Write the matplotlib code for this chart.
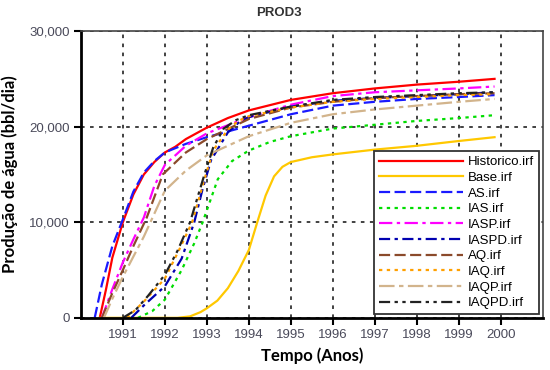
import matplotlib.pyplot as plt
from matplotlib.ticker import FuncFormatter

# anos decimais e producao de agua (bbl/dia)
hist_t = [1990.45, 1990.6, 1990.75, 1991.0, 1991.25, 1991.5, 1991.75, 1992.0, 1992.25, 1992.5, 1993.0, 1993.5, 1994.0, 1995.0, 1996.0, 1997.0, 1998.0, 1999.0, 1999.85]
hist_q = [0, 3000, 6300, 10000, 12900, 15000, 16300, 17300, 17900, 18700, 19900, 20900, 21700, 22800, 23500, 24000, 24400, 24700, 25000]

base_t = [1990.45, 1992.3, 1992.6, 1992.85, 1993.0, 1993.25, 1993.5, 1993.75, 1994.0, 1994.2, 1994.4, 1994.6, 1994.8, 1995.0, 1995.5, 1996.0, 1997.0, 1998.0, 1999.0, 1999.85]
base_q = [0, 0, 150, 600, 1000, 1800, 3100, 4900, 7100, 10000, 12800, 14800, 15800, 16300, 16800, 17100, 17600, 18000, 18500, 18900]

as_t = [1990.33, 1990.5, 1990.75, 1991.0, 1991.25, 1991.5, 1991.75, 1992.0, 1992.5, 1993.0, 1993.5, 1994.0, 1995.0, 1996.0, 1997.0, 1998.0, 1999.0, 1999.85]
as_q = [0, 3500, 7500, 10300, 13200, 15200, 16400, 17300, 18200, 18900, 19500, 20100, 21300, 22200, 22600, 22900, 23100, 23300]

ias_t = [1991.36, 1991.7, 1992.0, 1992.4, 1992.7, 1992.9, 1993.26, 1993.6, 1994.0, 1994.5, 1995.0, 1996.0, 1997.0, 1998.0, 1999.0, 1999.85]
ias_q = [0, 700, 1900, 5000, 7800, 10000, 14500, 16400, 17500, 18400, 19000, 19800, 20200, 20600, 20900, 21200]

iasp_t = [1990.5, 1990.75, 1991.0, 1991.25, 1991.5, 1991.75, 1992.0, 1992.5, 1993.0, 1994.0, 1995.0, 1996.0, 1997.0, 1998.0, 1999.0, 1999.85]
iasp_q = [0, 3000, 5800, 8200, 10500, 13800, 16000, 18000, 19300, 21000, 22300, 23200, 23600, 23800, 24000, 24200]

iaspd_t = [1991.2, 1991.5, 1992.0, 1992.4, 1992.7, 1992.9, 1993.1, 1993.5, 1993.75, 1994.0, 1995.0, 1996.0, 1997.0, 1998.0, 1999.0, 1999.85]
iaspd_q = [0, 1300, 3300, 6200, 10000, 13500, 16500, 19400, 20400, 21000, 22100, 22700, 23000, 23200, 23400, 23600]

aq_t = [1990.5, 1990.75, 1991.0, 1991.25, 1991.57, 1991.95, 1992.5, 1993.0, 1994.0, 1995.0, 1996.0, 1997.0, 1998.0, 1999.0, 1999.85]
aq_q = [0, 2600, 5000, 7500, 10500, 15000, 17300, 18700, 20800, 22000, 22600, 23000, 23200, 23400, 23500]

iaq_t = [1991.1, 1991.5, 1992.0, 1992.35, 1992.65, 1992.95, 1993.15, 1993.5, 1993.75, 1994.0, 1995.0, 1996.0, 1997.0, 1998.0, 1999.0, 1999.85]
iaq_q = [0, 1700, 4100, 7200, 10000, 14600, 17500, 19700, 20600, 21100, 22000, 22600, 22900, 23100, 23300, 23400]

iaqp_t = [1990.55, 1990.75, 1991.0, 1991.5, 1992.0, 1992.5, 1993.0, 1993.5, 1994.0, 1994.5, 1995.0, 1996.0, 1997.0, 1998.0, 1999.0, 1999.85]
iaqp_q = [0, 2000, 4300, 8500, 13300, 15400, 17000, 18000, 19000, 19700, 20400, 21300, 21800, 22200, 22600, 22900]

iaqpd_t = [1991.0, 1991.3, 1991.6, 1992.0, 1992.3, 1992.6, 1992.95, 1993.15, 1993.4, 1993.7, 1994.0, 1995.0, 1996.0, 1997.0, 1998.0, 1999.0, 1999.85]
iaqpd_q = [0, 800, 2300, 4500, 7000, 10000, 15100, 17800, 19800, 20700, 21200, 22100, 22800, 23100, 23300, 23500, 23600]

anos = list(range(1991, 2001))

series = [
    ('Historico.irf', hist_t, hist_q, '#ff0000', None),
    ('Base.irf', base_t, base_q, '#ffc800', None),
    ('AS.irf', as_t, as_q, '#1a1aff', (5, 2)),
    ('IAS.irf', ias_t, ias_q, '#00dd00', (1.5, 2)),
    ('IASP.irf', iasp_t, iasp_q, '#ff00ff', (6, 2, 1.5, 2)),
    ('IASPD.irf', iaspd_t, iaspd_q, '#0000b0', (5, 2, 1.5, 2)),
    ('AQ.irf', aq_t, aq_q, '#8b4a2b', (5, 2)),
    ('IAQ.irf', iaq_t, iaq_q, '#ffa000', (1.5, 2)),
    ('IAQP.irf', iaqp_t, iaqp_q, '#d2b48c', (7, 2, 2, 2)),
    ('IAQPD.irf', iaqpd_t, iaqpd_q, '#222222', (5, 2, 1.5, 2, 1.5, 2)),
]

fig = plt.figure(figsize=(5.5, 3.7), dpi=100)
ax = fig.add_axes([0.147, 0.141, 0.84, 0.775])

for nome, t, q, cor, dash in series:
    if dash is None:
        ax.plot(t, q, color=cor, lw=1.6, label=nome)
    else:
        ax.plot(t, q, color=cor, lw=1.6, dashes=dash, label=nome)

ax.set_xlim(1990, 2001)
ax.set_ylim(0, 30000)
ax.set_xticks(anos)
ax.set_yticks([0, 10000, 20000, 30000])
ax.yaxis.set_major_formatter(FuncFormatter(lambda v, p: '{:,.0f}'.format(v)))
ax.grid(True, color='#333333', lw=1.3, linestyle=(0, (2, 3)))
ax.set_axisbelow(True)

for lado in ['left', 'bottom']:
    ax.spines[lado].set_linewidth(2)
    ax.spines[lado].set_color('black')
for lado in ['top', 'right']:
    ax.spines[lado].set_linewidth(1.2)
    ax.spines[lado].set_color('#444444')

ax.tick_params(axis='both', direction='out', length=5, width=1.5, labelsize=9.5,
               labelcolor='#4a4a5a', pad=3)
for lbl in ax.get_xticklabels() + ax.get_yticklabels():
    lbl.set_family('Liberation Sans')

ax.set_xlabel('Tempo (Anos)', fontsize=12, fontweight='bold', family='Lato', labelpad=5)
ax.set_ylabel('Produção de água (bbl/dia)', fontsize=12, fontweight='bold', family='Lato', labelpad=8)
fig.text(0.507, 0.965, 'PROD3', ha='center', va='center', fontsize=9.5,
         fontweight='bold', color='#333333', family='Liberation Sans')

leg = ax.legend(loc='lower right', handlelength=6.4, handletextpad=0.35,
                borderaxespad=0.3, labelspacing=0.26, borderpad=0.35, fancybox=False,
                framealpha=1, edgecolor='#333333', prop={'family': 'Liberation Sans', 'size': 9.5})
leg.get_frame().set_linewidth(1.3)

fig.savefig('out.png', dpi=100)
